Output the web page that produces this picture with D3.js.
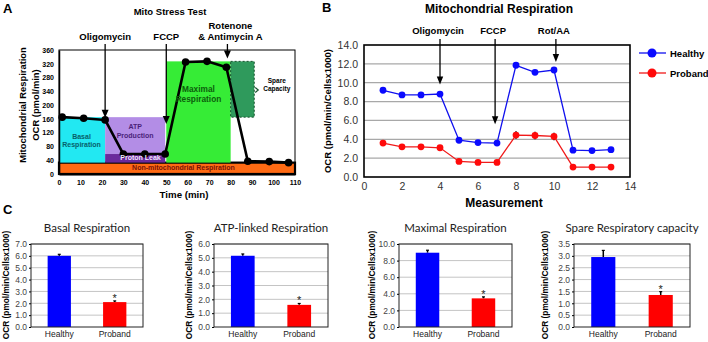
<!DOCTYPE html>
<html>
<head>
<meta charset="utf-8">
<script src="https://cdn.jsdelivr.net/npm/d3@7"></script>
<style>
  body { margin: 0; background: #fff; }
  svg { display: block; font-family: "Liberation Sans", Arial, sans-serif; }
</style>
</head>
<body>
<svg id="fig" width="708" height="342"></svg>
<script>
// ---- panel A: mito stress test schematic
var timeA = [1.5, 11.5, 21.5, 30, 40, 49.5, 59, 69, 78, 88, 98, 107];
var ocrA = [165, 162, 157, 58, 58, 58, 325, 327, 310, 37, 36, 33];
var tickValsA = [0, 40, 80, 120, 160, 200, 240, 280, 320, 360];
var tickLabelsA = ["0", "40", "80", "120", "160", "200", "340", "280", "320", "360"];
var timeTicksA = [0, 10, 20, 30, 40, 50, 60, 70, 80, 90, 100, 110];
var regionNames = ["Non-mitochondrial Respiration", "Basal Respiration", "ATP Production", "Proton Leak", "Maximal Respiration", "Spare Capacity"];
var regionX0 = [0, 0, 21.5, 21.5, 50, 80];
var regionX1 = [110, 21.5, 49.5, 49.5, 80, 91];
var regionY0 = [0, 33, 58, 33, 33, 165];
var regionY1 = [33, 165, 165, 58, 327, 327];
var injectionsA = ["Oligomycin", "FCCP", "Rotenone|& Antimycin  A"];
var injectionTimeA = [21.5, 50, 78.5];
var injectionTipA = [163, 145, 335];

// ---- panel B: measured OCR trace
var measurement = [1, 2, 3, 4, 5, 6, 7, 8, 9, 10, 11, 12, 13];
var healthy = [9.2, 8.7, 8.7, 8.8, 3.9, 3.65, 3.6, 11.85, 11.1, 11.35, 2.85, 2.8, 2.9];
var proband = [3.6, 3.2, 3.2, 3.1, 1.65, 1.55, 1.55, 4.45, 4.4, 4.3, 1.05, 1.05, 1.05];
var probandErr = [0.1, 0.1, 0.1, 0.1, 0.1, 0.1, 0.1, 0.4, 0.4, 0.4, 0.1, 0.1, 0.1];
var injectionsB = ["Oligomycin", "FCCP", "Rot/AA"];
var injectionMeasB = [4, 6.9, 10.1];
var injectionTipB = [9.8, 5.6, 12.2];
var seriesNames = ["Healthy", "Proband"];

// ---- panel C: summary bars
var groups = ["Healthy", "Proband"];
var summaryTitles = ["Basal  Respiration", "ATP-linked Respiration", "Maximal  Respiration", "Spare  Respiratory capacity"];
var summaryMax = [7, 6, 10, 3.5];
var summaryStep = [1, 1, 2, 0.5];
var healthyMean = [6.0, 5.15, 8.95, 2.95];
var healthySem = [0.13, 0.13, 0.3, 0.28];
var probandMean = [2.1, 1.6, 3.45, 1.35];
var probandSem = [0.1, 0.1, 0.18, 0.14];

var svg = d3.select("#fig");
var FONT = "Liberation Sans, Arial, sans-serif";

function arrow(g, x, yStart, yTip, w) {
  g.append("line").attr("x1", x).attr("x2", x).attr("y1", yStart).attr("y2", yTip - 5)
    .attr("stroke", "#000").attr("stroke-width", 1.3);
  g.append("path")
    .attr("d", "M" + (x - w) + "," + (yTip - 8) + "L" + (x + w) + "," + (yTip - 8) + "L" + x + "," + yTip + "Z")
    .attr("fill", "#000");
}

function styleAxis(g, size, weight, color) {
  g.attr("font-family", FONT).attr("font-size", size).attr("font-weight", weight);
  g.selectAll("text").attr("fill", color);
}

// panel letters
[["A", 3, 13], ["B", 322, 12], ["C", 3, 214]].forEach(function (d) {
  svg.append("text").attr("x", d[1]).attr("y", d[2]).text(d[0])
    .attr("font-size", 13).attr("font-weight", "bold");
});

// =================== Panel A
var mA = { left: 59, right: 295, top: 50, bottom: 174 };
var xA = d3.scaleLinear().domain([0, 110]).range([mA.left, mA.right]);
var yA = d3.scaleLinear().domain([0, 360]).range([mA.bottom, mA.top]);
var gA = svg.append("g");
var regionFill = ["#ff6a13", "#22e8f2", "#b38de6", "#6a2a9c", "#36ec36", "#2f9a5c"];

gA.append("rect").attr("x", mA.left).attr("y", mA.top)
  .attr("width", mA.right - mA.left).attr("height", mA.bottom - mA.top)
  .attr("fill", "none").attr("stroke", "#000").attr("stroke-width", 1);

var regions = regionNames.map(function (n, i) {
  return { name: n, x0: regionX0[i], x1: regionX1[i], y0: regionY0[i], y1: regionY1[i] };
});
gA.selectAll("rect.region").data(regions).enter().append("rect")
  .attr("class", "region")
  .attr("x", function (d) { return xA(d.x0); })
  .attr("width", function (d) { return xA(d.x1) - xA(d.x0); })
  .attr("y", function (d) { return yA(d.y1); })
  .attr("height", function (d) { return yA(d.y0) - yA(d.y1); })
  .attr("fill", function (d, i) { return regionFill[i]; })
  .attr("stroke", function (d, i) { return i == 0 ? "#000" : i == 5 ? "#17502c" : "none"; })
  .attr("stroke-width", function (d, i) { return i == 0 ? 2.2 : 1; })
  .attr("stroke-dasharray", function (d, i) { return i == 5 ? "2,2" : null; });

gA.append("g").attr("transform", "translate(" + mA.left + ",0)")
  .call(d3.axisLeft(yA).tickValues(tickValsA).tickFormat(function (d, i) { return tickLabelsA[i]; })
    .tickSize(0).tickPadding(5))
  .call(function (g) { g.select(".domain").attr("stroke-width", 1.5); styleAxis(g, 7, "bold", "#000"); });

gA.append("g").attr("transform", "translate(0," + mA.bottom + ")")
  .call(d3.axisBottom(xA).tickValues(timeTicksA).tickSize(0).tickPadding(6))
  .call(function (g) { g.select(".domain").attr("stroke-width", 2); styleAxis(g, 7, "bold", "#000"); });

// trace
var lineA = d3.line().x(function (d, i) { return xA(timeA[i]); }).y(function (d) { return yA(d); });
gA.append("path").datum(ocrA).attr("d", lineA).attr("fill", "none")
  .attr("stroke", "#000").attr("stroke-width", 2.6).attr("stroke-linejoin", "round");
gA.selectAll("circle").data(ocrA).enter().append("circle")
  .attr("cx", function (d, i) { return xA(timeA[i]); })
  .attr("cy", function (d) { return yA(d); })
  .attr("r", 3.8).attr("fill", "#000");

// region labels
function labelA(lines, x, y, size, color) {
  var t = gA.append("text").attr("x", x).attr("y", y).attr("text-anchor", "middle")
    .attr("font-size", size).attr("font-weight", "bold").attr("fill", color);
  lines.forEach(function (l, i) {
    t.append("tspan").attr("x", x).attr("dy", i == 0 ? 0 : size * 1.2).text(l);
  });
}
labelA(["Basal", "Respiration"], xA(10.5), yA(102), 7, "#07606a");
labelA(["ATP", "Production"], xA(35.5), yA(130), 7, "#4b1f7a");
labelA(["Proton Leak"], xA(38), yA(40), 7, "#f2e6ff");
labelA(["Non-mitochondrial Respiration"], xA(58), yA(12), 7, "#7a1208");
labelA(["Maximal", "Respiration"], xA(65), yA(238), 8.3, "#0b5e0b");
labelA(["Spare", "Capacity"], xA(101.5), yA(264), 6.5, "#000");
gA.append("path").attr("d", "M" + (xA(91) + 1) + "," + (yA(244) - 2.5) + "L" + (xA(91) + 4) + "," + yA(244) + "L" + (xA(91) + 1) + "," + (yA(244) + 2.5))
  .attr("fill", "none").attr("stroke", "#17502c").attr("stroke-width", 1.2);

// injections
injectionsA.forEach(function (name, i) {
  var x = xA(injectionTimeA[i]);
  var parts = name.split("|");
  parts.forEach(function (p, j) {
    gA.append("text").attr("x", x + (i == 2 ? 3 : 0)).attr("y", 40 - (parts.length - 1 - j) * 11)
      .attr("text-anchor", "middle").attr("font-size", 9.5).attr("font-weight", "bold").text(p);
  });
  arrow(gA, x, 44, yA(injectionTipA[i]), 3.5);
});

gA.append("text").attr("x", 170).attr("y", 15).attr("text-anchor", "middle")
  .attr("font-size", 9.5).attr("font-weight", "bold").text("Mito Stress Test");
gA.append("text").attr("x", 184).attr("y", 198).attr("text-anchor", "middle")
  .attr("font-size", 9.7).attr("font-weight", "bold").text("Time (min)");
gA.append("text").attr("transform", "translate(26,105) rotate(-90)").attr("text-anchor", "middle")
  .attr("font-size", 9.4).attr("font-weight", "bold").text("Mitochondrial Respiration");
gA.append("text").attr("transform", "translate(39,105) rotate(-90)").attr("text-anchor", "middle")
  .attr("font-size", 9.4).attr("font-weight", "bold").text("OCR (pmol/min)");

// =================== Panel B
var mB = { left: 364, right: 630, top: 45, bottom: 177 };
var xB = d3.scaleLinear().domain([0, 14]).range([mB.left, mB.right]);
var yB = d3.scaleLinear().domain([0, 14]).range([mB.bottom, mB.top]);
var gB = svg.append("g");

gB.selectAll("line.grid").data(d3.range(2, 14, 2)).enter().append("line")
  .attr("x1", mB.left).attr("x2", mB.right)
  .attr("y1", function (d) { return yB(d); }).attr("y2", function (d) { return yB(d); })
  .attr("stroke", "#a8a8a8").attr("stroke-width", 1.2);
gB.append("rect").attr("x", mB.left).attr("y", mB.top)
  .attr("width", mB.right - mB.left).attr("height", mB.bottom - mB.top)
  .attr("fill", "none").attr("stroke", "#000").attr("stroke-width", 1.6);

gB.append("g").attr("transform", "translate(" + mB.left + ",0)")
  .call(d3.axisLeft(yB).tickValues(d3.range(0, 15, 2)).tickFormat(d3.format(".1f")).tickSize(0).tickPadding(6))
  .call(function (g) { g.select(".domain").remove(); styleAxis(g, 10.5, "normal", "#333"); });
gB.append("g").attr("transform", "translate(0," + mB.bottom + ")")
  .call(d3.axisBottom(xB).tickValues(d3.range(0, 15, 2)).tickSize(0).tickPadding(6))
  .call(function (g) { g.select(".domain").remove(); styleAxis(g, 10.5, "normal", "#333"); });

var lineB = d3.line().x(function (d, i) { return xB(measurement[i]); }).y(function (d) { return yB(d); });
var seriesB = [
  { name: "Healthy", values: healthy, line: "#1010ee", dot: "#0a0aff" },
  { name: "Proband", values: proband, line: "#f01a1a", dot: "#ff0a0a" }
];
// proband error bars
gB.selectAll("line.err").data(proband).enter().append("line")
  .attr("x1", function (d, i) { return xB(measurement[i]); })
  .attr("x2", function (d, i) { return xB(measurement[i]); })
  .attr("y1", function (d, i) { return yB(d - probandErr[i]); })
  .attr("y2", function (d, i) { return yB(d + probandErr[i]); })
  .attr("stroke", "#000").attr("stroke-width", 1.5);
seriesB.forEach(function (s) {
  gB.append("path").datum(s.values).attr("d", lineB).attr("fill", "none")
    .attr("stroke", s.line).attr("stroke-width", 1.3);
  gB.selectAll(null).data(s.values).enter().append("circle")
    .attr("cx", function (d, i) { return xB(measurement[i]); })
    .attr("cy", function (d) { return yB(d); })
    .attr("r", 3.4).attr("fill", s.dot);
});

// legend
seriesB.forEach(function (s, i) {
  var y = 53 + i * 20;
  gB.append("line").attr("x1", 639).attr("x2", 666).attr("y1", y).attr("y2", y)
    .attr("stroke", s.line).attr("stroke-width", 1.3);
  gB.append("circle").attr("cx", 652).attr("cy", y).attr("r", 4.5).attr("fill", s.dot);
  gB.append("text").attr("x", 670).attr("y", y + 3.5).attr("font-size", 9.5)
    .attr("font-weight", "bold").text(seriesNames[i]);
});

injectionsB.forEach(function (name, i) {
  var x = xB(injectionMeasB[i]);
  gB.append("text").attr("x", x - 2).attr("y", 34).attr("text-anchor", "middle")
    .attr("font-size", 9.5).attr("font-weight", "bold").text(name);
  arrow(gB, x, 39, yB(injectionTipB[i]), 3.2);
});

gB.append("text").attr("x", 499).attr("y", 13).attr("text-anchor", "middle")
  .attr("font-size", 12).attr("font-weight", "bold").text("Mitochondrial Respiration");
gB.append("text").attr("x", 504).attr("y", 207).attr("text-anchor", "middle")
  .attr("font-size", 12).attr("font-weight", "bold").text("Measurement");
gB.append("text").attr("transform", "translate(331,111) rotate(-90)").attr("text-anchor", "middle")
  .attr("font-size", 9.5).attr("font-weight", "bold").text("OCR (pmol/min/Cellsx1000)");

// =================== Panel C
var cLeft = [31, 214, 399, 574];
var cRight = [143, 328, 512, 690];
var cLabelX = [9, 192, 375, 548];
var cTop = 244, cBottom = 327;
var barFill = ["#0000ff", "#ff0000"];

summaryTitles.forEach(function (title, k) {
  var g = svg.append("g");
  var x = d3.scaleBand().domain(groups).range([cLeft[k], cRight[k]]).paddingInner(0.58).paddingOuter(0.3);
  var y = d3.scaleLinear().domain([0, summaryMax[k]]).range([cBottom, cTop]);
  var ticks = d3.range(0, summaryMax[k] + 1e-9, summaryStep[k]);

  g.selectAll("line.grid").data(ticks.slice(1)).enter().append("line")
    .attr("x1", cLeft[k]).attr("x2", cRight[k])
    .attr("y1", function (d) { return y(d); }).attr("y2", function (d) { return y(d); })
    .attr("stroke", "#c4c4c4").attr("stroke-width", 1);

  var means = [healthyMean[k], probandMean[k]];
  var sems = [healthySem[k], probandSem[k]];
  g.selectAll("line.err").data(means).enter().append("line")
    .attr("x1", function (d, i) { return x(groups[i]) + x.bandwidth() / 2; })
    .attr("x2", function (d, i) { return x(groups[i]) + x.bandwidth() / 2; })
    .attr("y1", function (d) { return y(d); })
    .attr("y2", function (d, i) { return y(d + sems[i]); })
    .attr("stroke", "#000").attr("stroke-width", 1.5);
  g.selectAll("line.cap").data(means).enter().append("line")
    .attr("x1", function (d, i) { return x(groups[i]) + x.bandwidth() / 2 - 1.5; })
    .attr("x2", function (d, i) { return x(groups[i]) + x.bandwidth() / 2 + 1.5; })
    .attr("y1", function (d, i) { return y(d + sems[i]); })
    .attr("y2", function (d, i) { return y(d + sems[i]); })
    .attr("stroke", "#000").attr("stroke-width", 1.2);
  g.selectAll("rect.bar").data(means).enter().append("rect")
    .attr("x", function (d, i) { return x(groups[i]); })
    .attr("width", x.bandwidth())
    .attr("y", function (d) { return y(d); })
    .attr("height", function (d) { return cBottom - y(d); })
    .attr("fill", function (d, i) { return barFill[i]; });

  g.append("rect").attr("x", cLeft[k]).attr("y", cTop)
    .attr("width", cRight[k] - cLeft[k]).attr("height", cBottom - cTop)
    .attr("fill", "none").attr("stroke", "#222").attr("stroke-width", 1);

  g.append("g").attr("transform", "translate(" + cLeft[k] + ",0)")
    .call(d3.axisLeft(y).tickValues(ticks).tickFormat(d3.format(".1f")).tickSize(2).tickPadding(2))
    .call(function (a) { a.select(".domain").remove(); styleAxis(a, 8.5, "normal", "#444"); });

  g.selectAll("text.cat").data(groups).enter().append("text")
    .attr("x", function (d) { return x(d) + x.bandwidth() / 2; })
    .attr("y", 337).attr("text-anchor", "middle").attr("font-size", 8.5).attr("fill", "#222")
    .text(function (d) { return d; });

  // significance star over proband
  g.append("text").attr("x", x("Proband") + x.bandwidth() / 2)
    .attr("y", y(probandMean[k] + probandSem[k]) + 1).attr("text-anchor", "middle")
    .attr("font-size", 11).attr("fill", "#222").text("*");

  g.append("text").attr("x", (cLeft[k] + cRight[k]) / 2).attr("y", 232).attr("text-anchor", "middle")
    .attr("font-family", "Lato, sans-serif").attr("font-size", 11.5).attr("fill", "#222").text(title);
  g.append("text").attr("transform", "translate(" + cLabelX[k] + ",285) rotate(-90)")
    .attr("text-anchor", "middle").attr("font-size", 8.3).attr("font-weight", "bold")
    .text("OCR (pmol/min/Cellsx1000)");
});
</script>
</body>
</html>
